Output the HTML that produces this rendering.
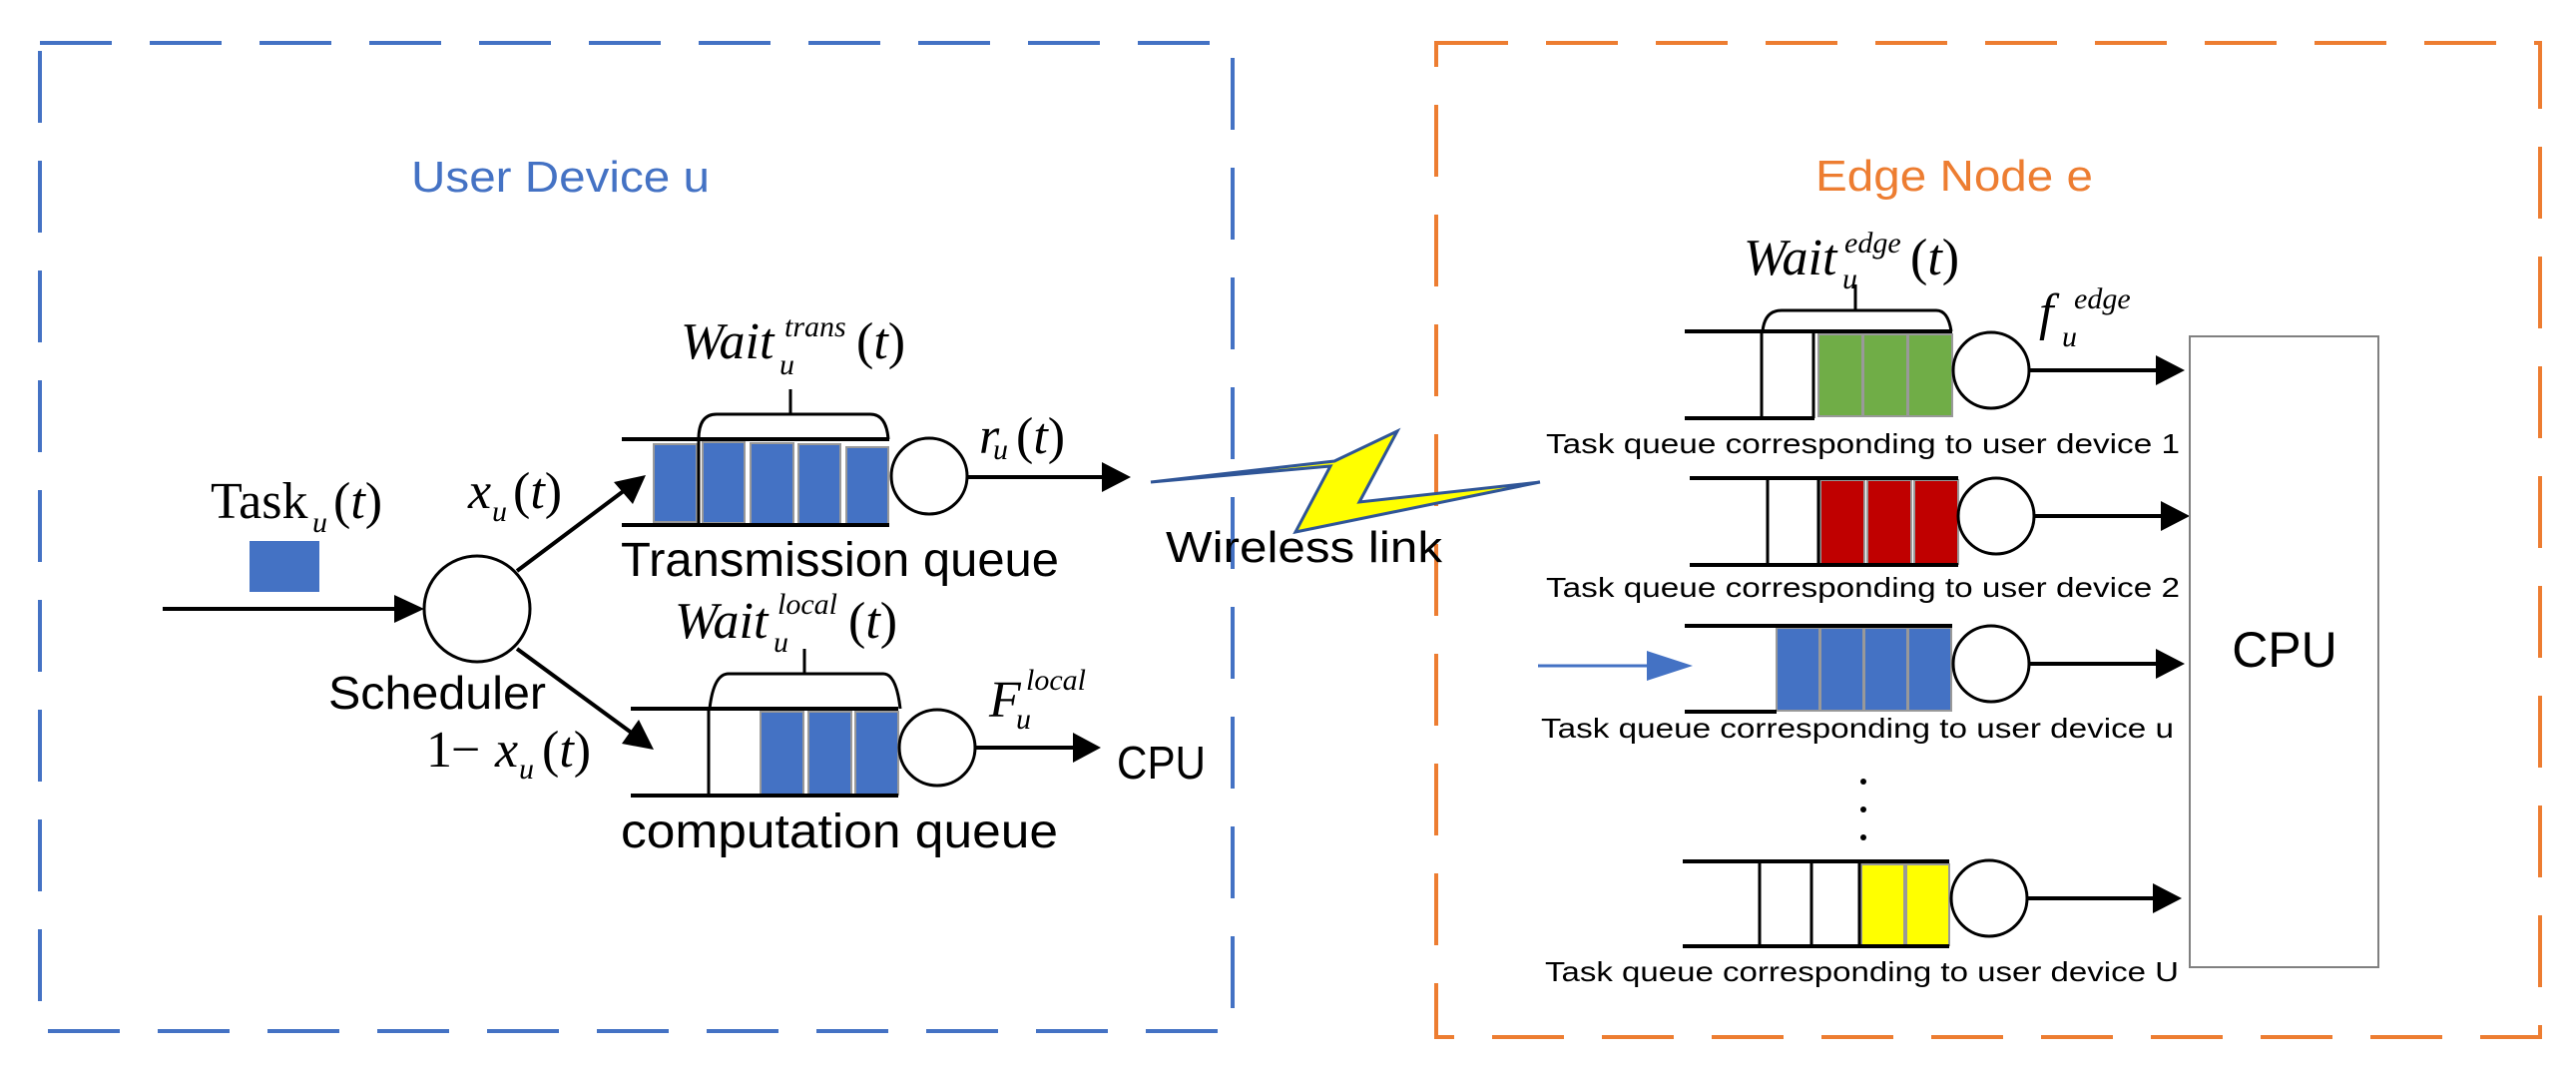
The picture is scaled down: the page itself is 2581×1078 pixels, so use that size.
<!DOCTYPE html>
<html><head><meta charset="utf-8"><style>
html,body{margin:0;padding:0;background:#fff}
svg{display:block}
.m{font-family:"Liberation Serif",serif;font-style:italic;fill:#000}
.s{font-family:"Liberation Sans",sans-serif;fill:#000}
</style></head><body>
<svg width="2581" height="1078" viewBox="0 0 2581 1078" xmlns="http://www.w3.org/2000/svg">
<defs>
<marker id="ah" markerWidth="10" markerHeight="10" refX="9" refY="5" orient="auto" markerUnits="userSpaceOnUse" viewBox="0 0 10 10"><path d="M0,0 L10,5 L0,10 z" fill="#000"/></marker>
</defs>
<!-- boxes -->
<rect x="40" y="43" width="1195" height="990" fill="none" stroke="#4472C4" stroke-width="4" stroke-dasharray="72 38"/>
<rect x="1439" y="43" width="1106" height="996" fill="none" stroke="#ED7D31" stroke-width="4" stroke-dasharray="72 38"/>
<text x="412" y="192" class="s" font-size="44" fill="#4472C4" style="fill:#4472C4" textLength="299" lengthAdjust="spacingAndGlyphs">User Device u</text>
<text x="1819" y="191" class="s" font-size="44" style="fill:#ED7D31" textLength="278" lengthAdjust="spacingAndGlyphs">Edge Node e</text>

<!-- Task input -->
<text x="211" y="519" class="m" font-size="52" style="font-style:normal">T<tspan style="font-style:normal">ask</tspan></text>
<text x="313" y="533" class="m" font-size="30">u</text>
<text x="334" y="519" class="m" font-size="52"><tspan style="font-style:normal">(</tspan>t<tspan style="font-style:normal">)</tspan></text>
<rect x="250" y="542" width="70" height="51" fill="#4472C4"/>
<line x1="163" y1="610" x2="420" y2="610" stroke="#000" stroke-width="4"/>
<path d="M395,596 L425,610 L395,624 z" fill="#000"/>
<circle cx="478" cy="610" r="53" fill="#fff" stroke="#000" stroke-width="3"/>
<text x="329" y="710" class="s" font-size="46" textLength="218" lengthAdjust="spacingAndGlyphs">Scheduler</text>
<!-- branch arrows -->
<line x1="518" y1="572" x2="630" y2="488" stroke="#000" stroke-width="4"/>
<path d="M647,476 L634,505 L615,483 z" fill="#000"/>
<line x1="518" y1="650" x2="638" y2="738" stroke="#000" stroke-width="4"/>
<path d="M655,751 L623,745 L640,721 z" fill="#000"/>
<text x="469" y="509" class="m" font-size="52">x</text>
<text x="493" y="522" class="m" font-size="30">u</text>
<text x="514" y="509" class="m" font-size="52" style="font-style:normal">(<tspan style="font-style:italic">t</tspan>)</text>
<text x="427" y="768" class="m" font-size="52" style="font-style:normal">1</text>
<text x="452" y="768" class="m" font-size="52" style="font-style:normal">−</text>
<text x="496" y="768" class="m" font-size="52">x</text>
<text x="520" y="780" class="m" font-size="30">u</text>
<text x="543" y="768" class="m" font-size="52" style="font-style:normal">(<tspan style="font-style:italic">t</tspan>)</text>

<!-- Transmission queue -->
<g stroke="#999" stroke-width="2" fill="#4472C4">
<rect x="655" y="445" width="43" height="78"/>
<rect x="704" y="443" width="42" height="81"/>
<rect x="752" y="444" width="43" height="81"/>
<rect x="800" y="445" width="42" height="81"/>
<rect x="848" y="448" width="42" height="77"/>
</g>
<line x1="623" y1="440" x2="891" y2="440" stroke="#000" stroke-width="4"/>
<line x1="623" y1="526" x2="891" y2="526" stroke="#000" stroke-width="4"/>
<line x1="700" y1="440" x2="700" y2="526" stroke="#000" stroke-width="3"/>
<path d="M700,440 Q700,415 718,415 H872 Q888,415 890,440" fill="none" stroke="#000" stroke-width="3"/>
<line x1="792" y1="390" x2="792" y2="415" stroke="#000" stroke-width="3"/>
<text x="682" y="359" class="m" font-size="52">Wait</text>
<text x="786" y="337" class="m" font-size="30">trans</text>
<text x="781" y="375" class="m" font-size="30">u</text>
<text x="858" y="359" class="m" font-size="52" style="font-style:normal">(<tspan style="font-style:italic">t</tspan>)</text>
<circle cx="931" cy="477" r="38" fill="#fff" stroke="#000" stroke-width="3"/>
<line x1="969" y1="478" x2="1110" y2="478" stroke="#000" stroke-width="4"/>
<path d="M1104,463 L1133,478 L1104,493 z" fill="#000"/>
<text x="981" y="454" class="m" font-size="52">r</text>
<text x="995" y="460" class="m" font-size="30">u</text>
<text x="1018" y="454" class="m" font-size="52" style="font-style:normal">(<tspan style="font-style:italic">t</tspan>)</text>
<text x="622" y="577" class="s" font-size="48" textLength="439" lengthAdjust="spacingAndGlyphs">Transmission queue</text>

<!-- Computation queue -->
<g stroke="#999" stroke-width="2" fill="#4472C4">
<rect x="762" y="713" width="43" height="83"/>
<rect x="810" y="713" width="43" height="83"/>
<rect x="857" y="713" width="43" height="83"/>
</g>
<line x1="632" y1="710" x2="900" y2="710" stroke="#000" stroke-width="4"/>
<line x1="632" y1="797" x2="900" y2="797" stroke="#000" stroke-width="4"/>
<line x1="710" y1="710" x2="710" y2="797" stroke="#000" stroke-width="3"/>
<path d="M711,710 Q715,675 730,675 H885 Q898,675 902,710" fill="none" stroke="#000" stroke-width="3"/>
<line x1="806" y1="650" x2="806" y2="675" stroke="#000" stroke-width="3"/>
<text x="676" y="639" class="m" font-size="52">Wait</text>
<text x="779" y="615" class="m" font-size="30">local</text>
<text x="775" y="653" class="m" font-size="30">u</text>
<text x="850" y="639" class="m" font-size="52" style="font-style:normal">(<tspan style="font-style:italic">t</tspan>)</text>
<circle cx="939" cy="749" r="38" fill="#fff" stroke="#000" stroke-width="3"/>
<line x1="977" y1="749" x2="1085" y2="749" stroke="#000" stroke-width="4"/>
<path d="M1075,734 L1103,749 L1075,764 z" fill="#000"/>
<text x="991" y="718" class="m" font-size="52">F</text>
<text x="1028" y="691" class="m" font-size="30">local</text>
<text x="1018" y="730" class="m" font-size="30">u</text>
<text x="1119" y="780" class="s" font-size="46" textLength="89" lengthAdjust="spacingAndGlyphs">CPU</text>
<text x="622" y="849" class="s" font-size="48" textLength="438" lengthAdjust="spacingAndGlyphs">computation queue</text>

<!-- Wireless -->
<polygon points="1153,483 1337,462 1400,432 1362,503 1543,483 1298,533 1333,467" fill="#FFFF00" stroke="#2F5597" stroke-width="3" stroke-linejoin="miter"/>
<text x="1168" y="563" class="s" font-size="44" textLength="277" lengthAdjust="spacingAndGlyphs">Wireless link</text>

<!-- Edge queues -->
<!-- Q1 -->
<g stroke="#999" stroke-width="2" fill="#70AD47">
<rect x="1822" y="335" width="44" height="82"/>
<rect x="1867" y="335" width="44" height="82"/>
<rect x="1912" y="335" width="44" height="82"/>
</g>
<line x1="1688" y1="332" x2="1956" y2="332" stroke="#000" stroke-width="4"/>
<line x1="1688" y1="419" x2="1818" y2="419" stroke="#000" stroke-width="4"/>
<line x1="1765" y1="332" x2="1765" y2="419" stroke="#000" stroke-width="3"/>
<line x1="1817" y1="332" x2="1817" y2="419" stroke="#000" stroke-width="3"/>
<path d="M1766,332 Q1768,311 1785,311 H1940 Q1952,311 1955,332" fill="none" stroke="#000" stroke-width="3"/>
<line x1="1859" y1="285" x2="1859" y2="311" stroke="#000" stroke-width="3"/>
<text x="1747" y="275" class="m" font-size="52">Wait</text>
<text x="1848" y="253" class="m" font-size="30">edge</text>
<text x="1846" y="289" class="m" font-size="30">u</text>
<text x="1914" y="275" class="m" font-size="52" style="font-style:normal">(<tspan style="font-style:italic">t</tspan>)</text>
<circle cx="1995" cy="371" r="38" fill="#fff" stroke="#000" stroke-width="3"/>
<line x1="2033" y1="371" x2="2170" y2="371" stroke="#000" stroke-width="4"/>
<path d="M2160,356 L2189,371 L2160,386 z" fill="#000"/>
<text x="2043" y="330" class="m" font-size="52">f</text>
<text x="2078" y="309" class="m" font-size="30">edge</text>
<text x="2066" y="347" class="m" font-size="30">u</text>
<text x="1549" y="454" class="s" font-size="28" textLength="635" lengthAdjust="spacingAndGlyphs">Task queue corresponding to user device 1</text>
<!-- Q2 -->
<g stroke="#999" stroke-width="2" fill="#C00000">
<rect x="1824" y="481" width="44" height="84"/>
<rect x="1871" y="481" width="44" height="84"/>
<rect x="1918" y="481" width="44" height="84"/>
</g>
<line x1="1693" y1="479" x2="1962" y2="479" stroke="#000" stroke-width="4"/>
<line x1="1693" y1="566" x2="1962" y2="566" stroke="#000" stroke-width="4"/>
<line x1="1771" y1="479" x2="1771" y2="566" stroke="#000" stroke-width="3"/>
<line x1="1822" y1="479" x2="1822" y2="566" stroke="#000" stroke-width="3"/>
<circle cx="2000" cy="517" r="38" fill="#fff" stroke="#000" stroke-width="3"/>
<line x1="2038" y1="517" x2="2175" y2="517" stroke="#000" stroke-width="4"/>
<path d="M2165,502 L2194,517 L2165,532 z" fill="#000"/>
<text x="1549" y="598" class="s" font-size="28" textLength="635" lengthAdjust="spacingAndGlyphs">Task queue corresponding to user device 2</text>
<!-- Qu -->
<g stroke="#999" stroke-width="2" fill="#4472C4">
<rect x="1780" y="629" width="43" height="83"/>
<rect x="1824" y="629" width="43" height="83"/>
<rect x="1868" y="629" width="43" height="83"/>
<rect x="1912" y="629" width="43" height="83"/>
</g>
<line x1="1688" y1="627" x2="1956" y2="627" stroke="#000" stroke-width="4"/>
<line x1="1688" y1="713" x2="1780" y2="713" stroke="#000" stroke-width="4"/>
<line x1="1541" y1="667" x2="1670" y2="667" stroke="#4472C4" stroke-width="3"/>
<path d="M1650,652 L1696,667 L1650,682 z" fill="#4472C4"/>
<circle cx="1995" cy="665" r="38" fill="#fff" stroke="#000" stroke-width="3"/>
<line x1="2033" y1="665" x2="2170" y2="665" stroke="#000" stroke-width="4"/>
<path d="M2160,650 L2189,665 L2160,680 z" fill="#000"/>
<text x="1544" y="739" class="s" font-size="28" textLength="634" lengthAdjust="spacingAndGlyphs">Task queue corresponding to user device u</text>
<circle cx="1867" cy="783" r="3" fill="#000"/>
<circle cx="1867" cy="811" r="3" fill="#000"/>
<circle cx="1867" cy="839" r="3" fill="#000"/>
<!-- QU -->
<g stroke="#999" stroke-width="2" fill="#FFFF00">
<rect x="1865" y="866" width="43" height="81"/>
<rect x="1910" y="866" width="43" height="81"/>
</g>
<line x1="1686" y1="863" x2="1953" y2="863" stroke="#000" stroke-width="4"/>
<line x1="1686" y1="948" x2="1953" y2="948" stroke="#000" stroke-width="4"/>
<line x1="1763" y1="863" x2="1763" y2="948" stroke="#000" stroke-width="3"/>
<line x1="1815" y1="863" x2="1815" y2="948" stroke="#000" stroke-width="3"/>
<line x1="1863" y1="863" x2="1863" y2="948" stroke="#000" stroke-width="3"/>
<circle cx="1993" cy="900" r="38" fill="#fff" stroke="#000" stroke-width="3"/>
<line x1="2031" y1="900" x2="2167" y2="900" stroke="#000" stroke-width="4"/>
<path d="M2157,885 L2186,900 L2157,915 z" fill="#000"/>
<text x="1548" y="983" class="s" font-size="28" textLength="635" lengthAdjust="spacingAndGlyphs">Task queue corresponding to user device U</text>
<!-- CPU box -->
<rect x="2194" y="337" width="189" height="632" fill="none" stroke="#808080" stroke-width="2"/>
<text x="2289" y="668" class="s" font-size="50" text-anchor="middle">CPU</text>
</svg>
</body></html>
